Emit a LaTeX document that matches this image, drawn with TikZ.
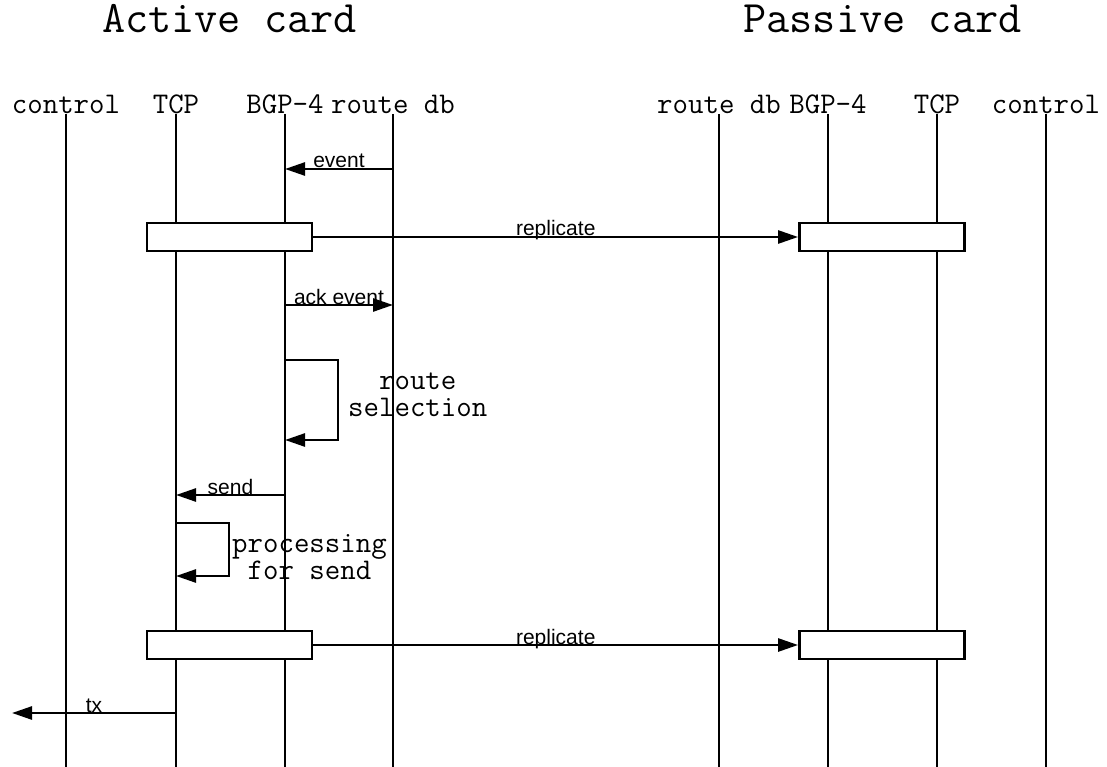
\documentclass[tikz,border=0pt]{standalone}
\usepackage{fontspec}
\setmainfont{Liberation Sans}
\usetikzlibrary{arrows.meta,positioning,calc}
\begin{document}
\begin{tikzpicture}[x=1pt, y=-1pt]
    \tikzstyle{title} = [font=\ttfamily\fontsize{45}{48}\selectfont, anchor=base, inner sep=0pt]
    \tikzstyle{head} = [font=\ttfamily\fontsize{30}{32}\selectfont, anchor=base, inner sep=0pt]
    \tikzstyle{life} = [line width=2.6pt]
    \tikzstyle{msg} = [line width=2.6pt, -{Triangle[length=20pt,width=13pt]}]
    \tikzstyle{lbl} = [font=\fontsize{21}{24}\selectfont, anchor=base, inner sep=0pt, yshift=1pt]
    \tikzstyle{rep} = [draw, line width=2.8pt, fill=white, minimum width=165pt, minimum height=28pt, inner sep=0pt]
    \tikzstyle{note} = [font=\ttfamily\fontsize{30}{27}\selectfont, align=center, anchor=west, inner sep=0pt]

    \useasboundingbox (0,0) rectangle (1107,767);

    % Cards
    \node [title] (active) at (229.5,33) {Active card};
    \node [title] (passive) at (882.5,33) {Passive card};

    % Active card lifelines
    \node [head] (actl) at (66,114) {control};
    \node [head] (atcp) at (176,114) {TCP};
    \node [head] (abgp) at (285,114) {BGP-4};
    \node [head] (adb) at (393,114) {route db};

    % Passive card lifelines
    \node [head] (pdb) at (719,114) {route db};
    \node [head] (pbgp) at (828,114) {BGP-4};
    \node [head] (ptcp) at (937,114) {TCP};
    \node [head] (pctl) at (1046,114) {control};

    \coordinate (bottom) at (0,767);
    \foreach \n in {actl,atcp,abgp,adb,pdb,pbgp,ptcp,pctl}
        \draw [life] (\n.base) -- (\n.base |- bottom);

    % Steps
    \coordinate (ev) at (0,169);
    \coordinate (rp1) at (0,237);
    \coordinate (ack) at (0,305);
    \coordinate (rs-top) at (338,360);
    \coordinate (rs-bot) at (338,440);
    \coordinate (snd) at (0,495);
    \coordinate (pr-top) at (229,523);
    \coordinate (pr-bot) at (229,576);
    \coordinate (rp2) at (0,645);
    \coordinate (tx) at (0,713);
    \coordinate (out) at (12,713);

    % Replication boxes
    \node [rep] (repa1) at (229.5,237) {};
    \node [rep] (repp1) at (882,237) {};
    \node [rep] (repa2) at (229.5,645) {};
    \node [rep] (repp2) at (882,645) {};

    \draw [msg] (adb |- ev) -- node [lbl] {event} (abgp |- ev);
    \draw [msg] (repa1.east) -- node [lbl] {replicate} (repp1.west);
    \draw [msg] (abgp |- ack) -- node [lbl] {ack event} (adb |- ack);
    \draw [msg] (abgp |- rs-top) -- (rs-top) -- (rs-bot) -- (abgp |- rs-bot);
    \draw [msg] (abgp |- snd) -- node [lbl] {send} (atcp |- snd);
    \draw [msg] (atcp |- pr-top) -- (pr-top) -- (pr-bot) -- (atcp |- pr-bot);
    \draw [msg] (repa2.east) -- node [lbl] {replicate} (repp2.west);
    \draw [msg] (atcp |- tx) -- node [lbl] {tx} (out);

    \node [note, right=10pt of $(rs-top)!0.5!(rs-bot)$, yshift=5pt] (rsel) {route\\selection};
    \node [note, right=3pt of $(pr-top)!0.5!(pr-bot)$, yshift=-8pt] (proc) {processing\\for send};
\end{tikzpicture}
\end{document}
